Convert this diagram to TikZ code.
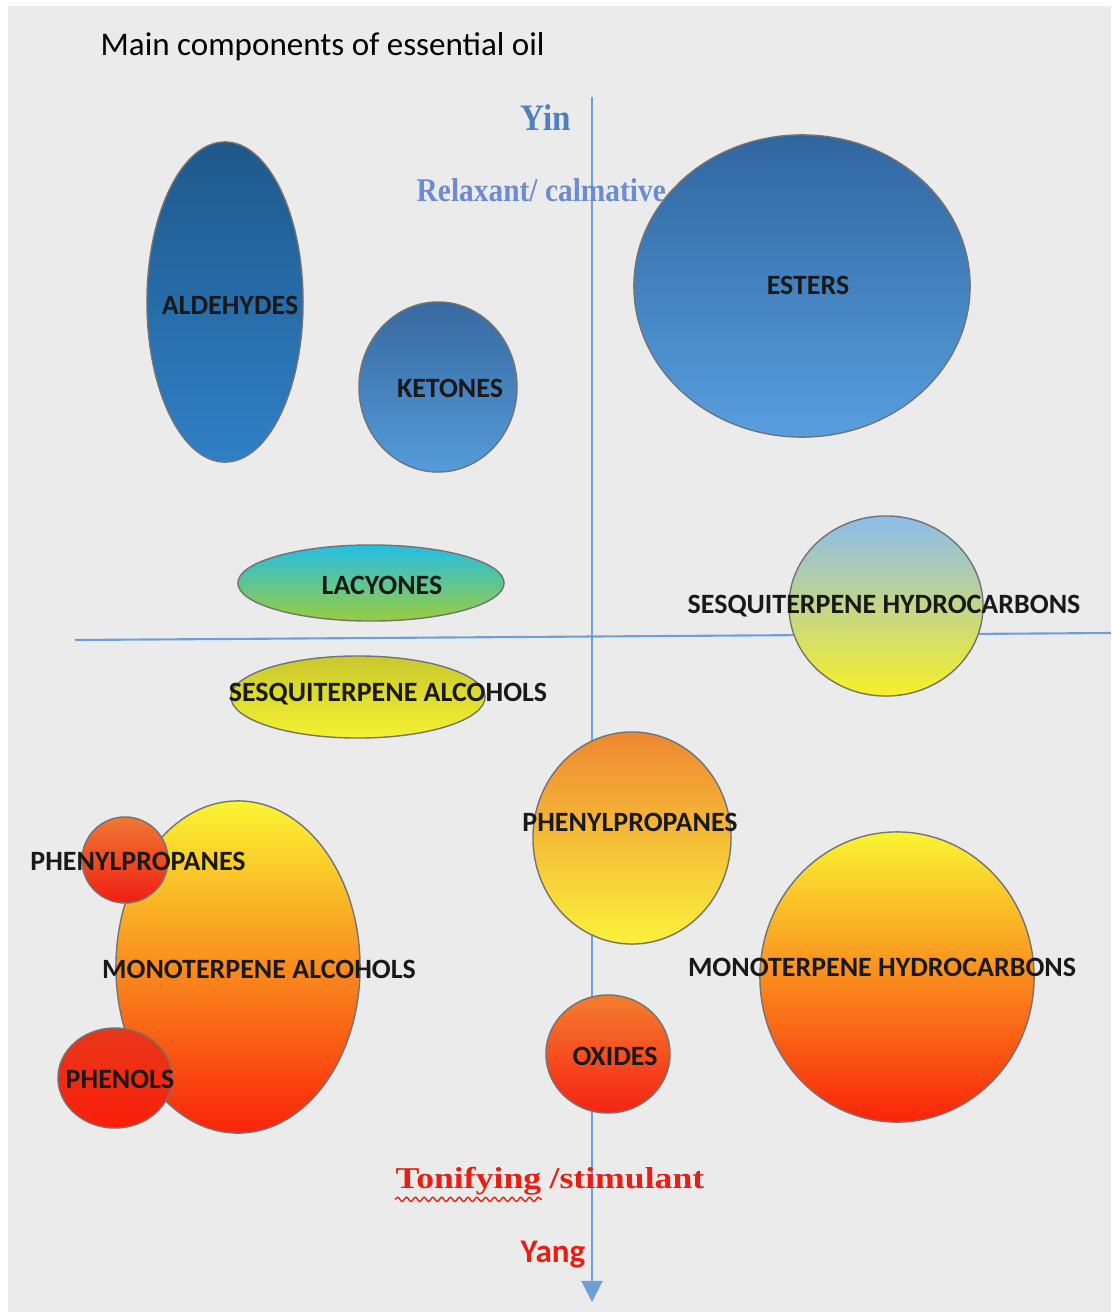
\documentclass[tikz,border=0pt]{standalone}
\usepackage{fontspec}
\setmainfont{Liberation Serif}
\newfontfamily\calfont{Carlito}
\newfontfamily\narrowserif[FakeStretch=0.89]{Liberation Serif}
\newfontfamily\wideserif[FakeStretch=1.18]{Liberation Serif}
\usetikzlibrary{positioning,calc,arrows.meta,shapes,decorations.pathmorphing}

\definecolor{bggray}{RGB}{235,235,235}
\definecolor{axisblue}{RGB}{110,160,215}
\definecolor{yinblue}{RGB}{79,129,189}
\definecolor{relaxblue}{RGB}{110,140,205}
\definecolor{yangred}{RGB}{232,30,20}

\begin{document}
\begin{tikzpicture}[x=0.01cm,y=-0.01cm,
    blob/.style={ellipse,draw=black!55,line width=0.4pt,inner sep=0pt},
    lbl/.style={font=\calfont\bfseries\fontsize{7.95}{9}\selectfont,text=black!90,inner sep=0pt},
    axis/.style={draw=axisblue,line width=0.6pt}]

        % background
        \useasboundingbox (0,0) rectangle (1111,1312);
        \fill[white] (0,0) rectangle (1111,1312);
        \fill[bggray] (8,6) rectangle (1111,1312);

        % axes
        \coordinate (hleft) at (75,640);
        \coordinate (hright) at (1111,633);
        \coordinate (vtop) at (592,97);
        \coordinate (vbot) at (592,1302);
        \draw[axis] (hleft) -- (hright);
        \draw[axis,-{Triangle[width=6pt,length=6pt]}] (vtop) -- (vbot);

        % upper half
        \node[blob,minimum width=1.56cm,minimum height=3.20cm,top color={rgb,255:red,30;green,88;blue,138},bottom color={rgb,255:red,48;green,128;blue,198}] (aldehydes) at (225,302) {};
        \node[blob,minimum width=1.58cm,minimum height=1.70cm,top color={rgb,255:red,55;green,105;blue,160},bottom color={rgb,255:red,85;green,155;blue,218}] (ketones) at (438,387) {};
        \node[blob,minimum width=3.36cm,minimum height=3.02cm,top color={rgb,255:red,48;green,102;blue,160},bottom color={rgb,255:red,88;green,158;blue,222}] (esters) at (802,286) {};
        \node[blob,minimum width=2.66cm,minimum height=0.76cm,top color={rgb,255:red,35;green,190;blue,230},bottom color={rgb,255:red,155;green,205;blue,60}] (lacyones) at (371,583) {};
        \node[blob,minimum width=1.94cm,minimum height=1.80cm,top color={rgb,255:red,140;green,188;blue,235},middle color={rgb,255:red,195;green,220;blue,232},bottom color={rgb,255:red,248;green,240;blue,40}] (sesqhc) at (886,606) {};

        % lower half
        \node[blob,minimum width=2.54cm,minimum height=0.82cm,top color={rgb,255:red,200;green,200;blue,45},bottom color={rgb,255:red,245;green,242;blue,50}] (sesqalc) at (358,697) {};
        \node[blob,minimum width=1.98cm,minimum height=2.12cm,top color={rgb,255:red,240;green,135;blue,50},bottom color={rgb,255:red,250;green,242;blue,60}] (phenylmid) at (632,838) {};
        \node[blob,minimum width=2.74cm,minimum height=2.90cm,top color={rgb,255:red,250;green,245;blue,50},bottom color={rgb,255:red,250;green,35;blue,10}] (monohc) at (897,977) {};
        \node[blob,minimum width=1.24cm,minimum height=1.18cm,top color={rgb,255:red,245;green,125;blue,45},bottom color={rgb,255:red,245;green,35;blue,20}] (oxides) at (608,1054) {};
        \node[blob,minimum width=2.44cm,minimum height=3.32cm,top color={rgb,255:red,250;green,245;blue,50},bottom color={rgb,255:red,250;green,35;blue,10}] (monoalc) at (238,967) {};
        \node[blob,minimum width=0.86cm,minimum height=0.86cm,top color={rgb,255:red,240;green,120;blue,50},bottom color={rgb,255:red,240;green,30;blue,20}] (phenylsmall) at (125,860) {};
        \node[blob,minimum width=1.14cm,minimum height=1.00cm,top color={rgb,255:red,232;green,55;blue,25},bottom color={rgb,255:red,250;green,30;blue,10}] (phenols) at (115,1078) {};

        % labels
        \node[lbl] (aldehydes-text) at (230,305) {ALDEHYDES};
        \node[lbl] (ketones-text) at (450,388) {KETONES};
        \node[lbl] (esters-text) at (808,285) {ESTERS};
        \node[lbl] (lacyones-text) at (382,585) {LACYONES};
        \node[lbl] (sesqhc-text) at (884,606) {SESQUITERPENE HYDROCARBONS};
        \node[lbl] (sesqalc-text) at (388,694) {SESQUITERPENE ALCOHOLS};
        \node[lbl] (phenylmid-text) at (630,822) {PHENYLPROPANES};
        \node[lbl] (monohc-text) at (882,967) {MONOTERPENE HYDROCARBONS};
        \node[lbl] (oxides-text) at (615,1056) {OXIDES};
        \node[lbl] (monoalc-text) at (259,969) {MONOTERPENE ALCOHOLS};
        \node[lbl] (phenylsmall-text) at (138,861) {PHENYLPROPANES};
        \node[lbl] (phenols-text) at (120,1079) {PHENOLS};

        % title and poles
        \node[anchor=west,inner sep=0pt,font=\calfont\fontsize{9.4}{11}\selectfont] (title) at (100,47) {Main components of essential oil};
        \node[inner sep=0pt,text=yinblue,font=\narrowserif\bfseries\fontsize{10.6}{12}\selectfont] (yin) at (546,118) {Yin};
        \node[anchor=west,inner sep=0pt,text=relaxblue,font=\narrowserif\bfseries\fontsize{9.4}{11}\selectfont] (relax) at (416,190) {Relaxant/ calmative};
        \node[anchor=base west,inner sep=0pt,text=yangred,font=\wideserif\bfseries\fontsize{8.6}{10}\selectfont] (tonify) at (395,1188) {Tonifying};
        \node[anchor=base west,inner sep=0pt,text=yangred,font=\wideserif\bfseries\fontsize{8.6}{10}\selectfont] (stim) at ([xshift=2pt]tonify.base east) {/stimulant};
        \node[inner sep=0pt,text=yangred,font=\calfont\bfseries\fontsize{9.4}{11}\selectfont] (yang) at (553,1255) {Yang};
        \draw[yangred,line width=0.4pt,decorate,decoration={snake,amplitude=0.6pt,segment length=2.5pt}] ($(tonify.south west)+(0,4)$) -- ($(tonify.south east)+(0,4)$);
\end{tikzpicture}
\end{document}
